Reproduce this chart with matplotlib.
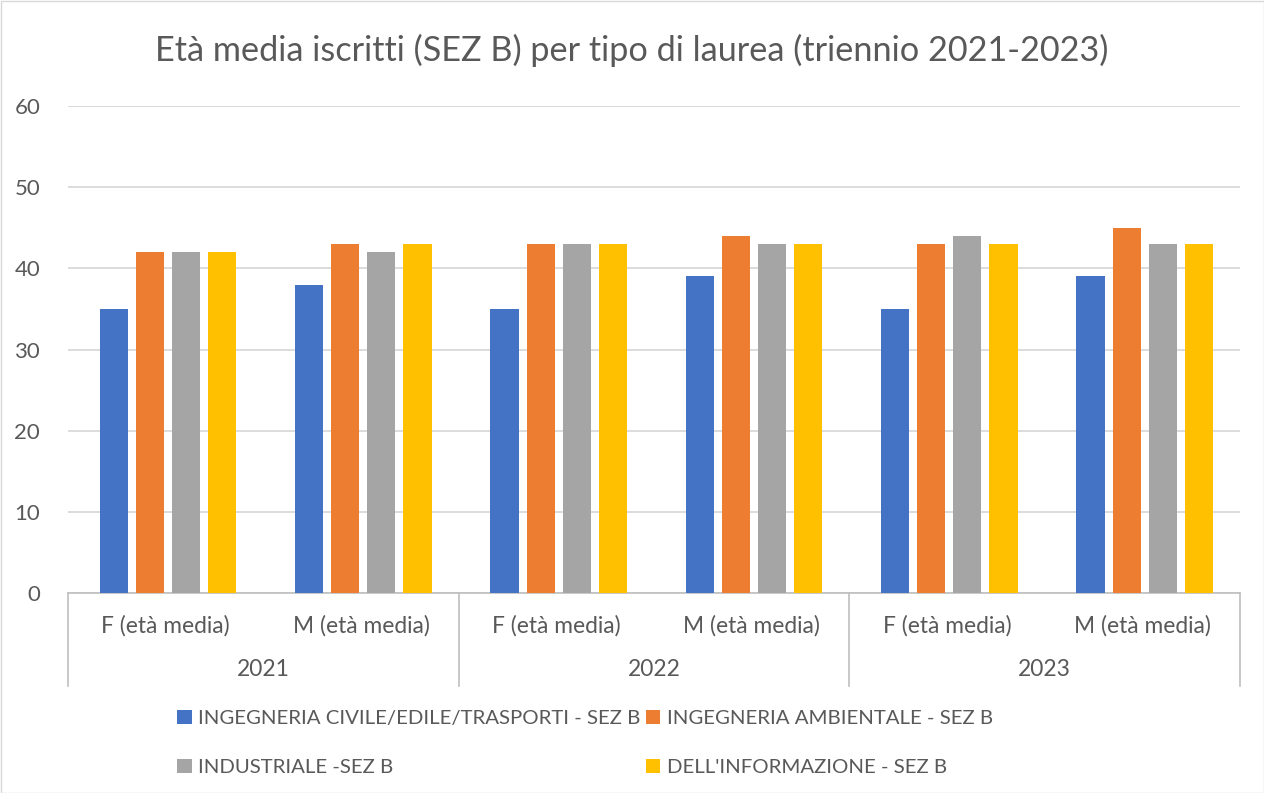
import matplotlib
matplotlib.use("Agg")
import matplotlib.pyplot as plt
import matplotlib.transforms as mtransforms
from matplotlib.patches import Rectangle
import numpy as np

plt.rcParams['font.family'] = ['Lato', 'DejaVu Sans']

years = ["2021", "2022", "2023"]
sub_labels = ["F (età media)", "M (età media)"]
series_names = [
    "INGEGNERIA CIVILE/EDILE/TRASPORTI - SEZ B",
    "INGEGNERIA AMBIENTALE - SEZ B",
    "INDUSTRIALE -SEZ B",
    "DELL'INFORMAZIONE - SEZ B",
]
civile = [35, 38, 35, 39, 35, 39]
ambientale = [42, 43, 43, 44, 43, 45]
industriale = [42, 42, 43, 43, 44, 43]
informazione = [42, 43, 43, 43, 43, 43]
colors = ["#4472C4", "#ED7D31", "#A5A5A5", "#FFC000"]

title = "Età media iscritti (SEZ B) per tipo di laurea (triennio 2021-2023)"
text_color = "#595959"

fig = plt.figure(figsize=(12.64, 7.93), dpi=100)
ax = fig.add_axes([68/1264, 1-593/793, (1240-68)/1264, (593-106)/793])

series = [civile, ambientale, industriale, informazione]
n = len(civile)
x = np.arange(n)
bw = 0.144
step = 0.185
handles = []
for i, (vals, c) in enumerate(zip(series, colors)):
    b = ax.bar(x + (i - 1.5) * step + 0.012, vals, width=bw, color=c, zorder=3, label=series_names[i])
    handles.append(b)

ax.set_xlim(-0.5, n - 0.5)
ax.set_ylim(0, 60)
ax.set_yticks(range(0, 61, 10))
ax.yaxis.grid(True, color="#D9D9D9", linewidth=1.3, zorder=0)
for s in ["top", "right", "left"]:
    ax.spines[s].set_visible(False)
ax.spines["bottom"].set_color("#BFBFBF")
ax.spines["bottom"].set_linewidth(1.2)
ax.tick_params(axis="y", length=0, labelsize=16, labelcolor=text_color, pad=20)
ax.set_xticks([])

trans = mtransforms.blended_transform_factory(ax.transData, ax.transAxes)
for j in range(n):
    ax.text(x[j], -0.068, sub_labels[j % 2], transform=trans, ha="center", va="center",
            fontsize=16.4, color=text_color)
for k, yr in enumerate(years):
    ax.text(2 * k + 0.5, -0.158, yr, transform=trans, ha="center", va="center",
            fontsize=16.4, color=text_color)
for k in range(len(years) + 1):
    xs = 2 * k - 0.5
    ax.plot([xs, xs], [0, -0.191], transform=trans, color="#BFBFBF", linewidth=1.2, clip_on=False)

fig.text(0.5, 1 - 50/793, title, ha="center", va="center", fontsize=24.7, color=text_color)

order = [0, 2, 1, 3]
leg = fig.legend([handles[i] for i in order], [series_names[i] for i in order],
                 ncol=2, loc="center", bbox_to_anchor=(585/1264, 1 - 743/793),
                 frameon=False, fontsize=14.7, labelcolor=text_color,
                 handlelength=0.7, handleheight=0.7, handletextpad=0.3,
                 columnspacing=0.3, labelspacing=1.55)

fig.patches.append(Rectangle((0.5/1264, 0.5/793), 1 - 1/1264, 1 - 1/793, transform=fig.transFigure,
                             fill=False, edgecolor="#D9D9D9", linewidth=1.0))

fig.savefig("out.png", dpi=100, facecolor="white")
